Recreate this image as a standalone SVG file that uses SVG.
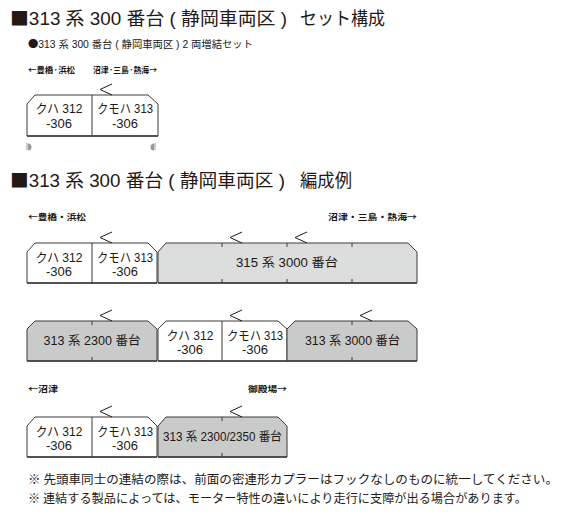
<svg xmlns="http://www.w3.org/2000/svg" width="578" height="525" viewBox="0 0 578 525">
<style>
text{font-family:"Liberation Sans","Noto Sans CJK JP",sans-serif;fill:#231815}
.jp,tspan.jp{font-family:"Noto Sans CJK JP",sans-serif}
.title{font-size:18px}
.sub{font-size:10px}
.dir{font-size:8.5px;font-weight:bold;font-family:"Noto Sans CJK JP",sans-serif}
.car{font-size:13px;text-anchor:middle}
.grp{font-size:12.5px;text-anchor:middle}
.note{font-size:12px}
.w{fill:#fff;stroke:#3e3a39;stroke-width:1}
.g1{fill:#dcdddd;stroke:#3e3a39;stroke-width:1}
.g2{fill:#c9caca;stroke:#3e3a39;stroke-width:1}
.ln{stroke:#3e3a39;stroke-width:1;fill:none}
.bt{stroke:#3e3a39;stroke-width:1.6}
.mk{stroke:#231815;stroke-width:1;fill:none}
.cp{fill:#9a9a9a;stroke:none}
</style>
<defs>
<polyline id="mark" class="mk" points="12,-11 0,-5.5 12,0"/>
</defs>

<text class="title" x="10" y="25" textLength="277" lengthAdjust="spacingAndGlyphs"><tspan class="jp">■</tspan>313 系 300 番台 ( 静岡車両区 )</text>
<text class="title jp" x="300" y="25" textLength="85" lengthAdjust="spacingAndGlyphs">セット構成</text>
<text class="sub" x="28" y="48" textLength="225" lengthAdjust="spacingAndGlyphs"><tspan class="jp">●</tspan>313 系 300 番台 ( 静岡車両区 ) 2 両増結セット</text>
<text class="dir" x="28" y="73" textLength="47" lengthAdjust="spacingAndGlyphs">←豊橋·浜松</text>
<text class="dir" x="93" y="73" textLength="64" lengthAdjust="spacingAndGlyphs">沼津·三島·熱海→</text>

<g id="set">
<polygon class="w" points="27,104 35,95 148,95 158,104 158,136 27,136"/>
<line class="ln" x1="92" y1="95" x2="92" y2="136"/>
<line class="bt" x1="27" y1="136" x2="158" y2="136"/>
<use href="#mark" x="100" y="95"/>
<text class="car" x="59" y="113" textLength="47" lengthAdjust="spacingAndGlyphs">クハ 312</text>
<text class="car" x="59" y="128">-306</text>
<text class="car" x="125" y="113" textLength="56" lengthAdjust="spacingAndGlyphs">クモハ 313</text>
<text class="car" x="125" y="128">-306</text>
<g id="coupler-l">
<line x1="27" y1="143" x2="27" y2="150" stroke="#9a9a9a" stroke-width="1"/>
<path class="cp" d="M28,143.5 A3.5,3.5 0 0 1 28,150.5 Z"/>
</g>
<g id="coupler-r">
<line x1="155" y1="143" x2="155" y2="150" stroke="#9a9a9a" stroke-width="1"/>
<path class="cp" d="M154,143.5 A3.5,3.5 0 0 0 154,150.5 Z"/>
</g>
</g>

<text class="title" x="10" y="187" textLength="275" lengthAdjust="spacingAndGlyphs"><tspan class="jp">■</tspan>313 系 300 番台 ( 静岡車両区 )</text>
<text class="title jp" x="300" y="187" textLength="52" lengthAdjust="spacingAndGlyphs">編成例</text>

<text class="dir" x="28" y="220" textLength="58" lengthAdjust="spacingAndGlyphs">←豊橋・浜松</text>
<text class="dir" x="328" y="220" textLength="89" lengthAdjust="spacingAndGlyphs">沼津・三島・熱海→</text>

<g id="comp1">
<g id="c1-313-300">
<polygon class="w" points="27,252 35,243 148,243 157,252 157,283 27,283"/>
<line class="ln" x1="92" y1="243" x2="92" y2="283"/>
<line class="bt" x1="27" y1="283" x2="157" y2="283"/>
<text class="car" x="59" y="262" textLength="47" lengthAdjust="spacingAndGlyphs">クハ 312</text>
<text class="car" x="59" y="276">-306</text>
<text class="car" x="125" y="262" textLength="56" lengthAdjust="spacingAndGlyphs">クモハ 313</text>
<text class="car" x="125" y="276">-306</text>
</g>
<g id="c1-315">
<polygon class="g1" points="158,252 166,243 408,243 417,252 417,283 158,283"/>
<line class="bt" x1="158" y1="283" x2="417" y2="283"/>
<path class="ln" d="M222,243v4M287,243v4M352,243v4M222,283v-4M287,283v-4M352,283v-4"/>
<text class="grp" x="287" y="267" textLength="102" lengthAdjust="spacingAndGlyphs">315 系 3000 番台</text>
</g>
<g id="c1-marks">
<use href="#mark" x="100" y="243"/>
<use href="#mark" x="230" y="243"/>
<use href="#mark" x="295" y="243"/>
</g>
</g>

<g id="comp2">
<g id="c2-2300">
<polygon class="g2" points="27,329 35,321 148,321 157,329 157,361 27,361"/>
<line class="bt" x1="27" y1="361" x2="157" y2="361"/>
<path class="ln" d="M92,321v4M92,361v-4"/>
<text class="grp" x="92" y="345" textLength="97" lengthAdjust="spacingAndGlyphs">313 系 2300 番台</text>
</g>
<g id="c2-300">
<polygon class="w" points="158,329 166,321 278,321 287,329 287,361 158,361"/>
<line class="ln" x1="222" y1="321" x2="222" y2="361"/>
<line class="bt" x1="158" y1="361" x2="287" y2="361"/>
<text class="car" x="190" y="340" textLength="47" lengthAdjust="spacingAndGlyphs">クハ 312</text>
<text class="car" x="255" y="340" textLength="56" lengthAdjust="spacingAndGlyphs">クモハ 313</text>
<text class="car" x="190" y="354">-306</text>
<text class="car" x="255" y="354">-306</text>
</g>
<g id="c2-3000">
<polygon class="g2" points="287,329 295,321 408,321 417,329 417,361 287,361"/>
<line class="bt" x1="287" y1="361" x2="417" y2="361"/>
<path class="ln" d="M352,321v4M352,361v-4"/>
<text class="grp" x="352.5" y="345" textLength="95" lengthAdjust="spacingAndGlyphs">313 系 3000 番台</text>
</g>
<g id="c2-marks">
<use href="#mark" x="100" y="321"/>
<use href="#mark" x="230" y="321"/>
<use href="#mark" x="360" y="321"/>
</g>
</g>

<text class="dir" x="28" y="392" textLength="30" lengthAdjust="spacingAndGlyphs">←沼津</text>
<text class="dir" x="248" y="392" textLength="39" lengthAdjust="spacingAndGlyphs">御殿場→</text>

<g id="comp3">
<g id="c3-300">
<polygon class="w" points="27,426 35,417 148,417 157,426 157,457 27,457"/>
<line class="ln" x1="92" y1="417" x2="92" y2="457"/>
<line class="bt" x1="27" y1="457" x2="157" y2="457"/>
<text class="car" x="59" y="436" textLength="47" lengthAdjust="spacingAndGlyphs">クハ 312</text>
<text class="car" x="59" y="450">-306</text>
<text class="car" x="125" y="436" textLength="56" lengthAdjust="spacingAndGlyphs">クモハ 313</text>
<text class="car" x="125" y="450">-306</text>
</g>
<g id="c3-2300">
<polygon class="g2" points="158,426 166,417 278,417 287,426 287,457 158,457"/>
<line class="bt" x1="158" y1="457" x2="287" y2="457"/>
<path class="ln" d="M222,417v4M222,457v-4"/>
<text class="grp" x="222.5" y="441" textLength="119" lengthAdjust="spacingAndGlyphs">313 系 2300/2350 番台</text>
</g>
<g id="c3-marks">
<use href="#mark" x="100" y="417"/>
<use href="#mark" x="230" y="417"/>
</g>
</g>

<text class="note jp" x="28" y="484" textLength="530" lengthAdjust="spacingAndGlyphs">※ 先頭車同士の連結の際は、前面の密連形カプラーはフックなしのものに統一してください。</text>
<text class="note jp" x="28" y="503" textLength="499" lengthAdjust="spacingAndGlyphs">※ 連結する製品によっては、モーター特性の違いにより走行に支障が出る場合があります。</text>
</svg>
